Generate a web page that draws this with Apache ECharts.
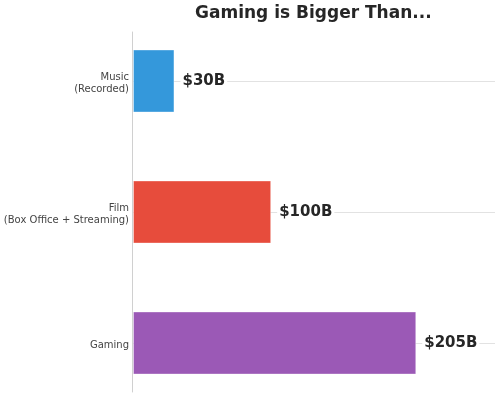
<!DOCTYPE html>
<html>
<head>
<meta charset="utf-8">
<script src="https://cdn.jsdelivr.net/npm/echarts@6/dist/echarts.min.js"></script>
<style>html,body{margin:0;padding:0;background:#fff}#c{width:500px;height:398px}</style>
</head>
<body>
<div id="c"></div>
<script>
const categories = ['Music\n(Recorded)', 'Film\n(Box Office + Streaming)', 'Gaming'];
const values = [30, 100, 205];
const valueLabels = ['$30B', '$100B', '$205B'];
const colors = ['#3498db', '#e74c3c', '#9b59b6'];
const titleText = 'Gaming is Bigger Than...';

const chart = echarts.init(document.getElementById('c'), null, {renderer: 'canvas'});
chart.setOption({
  animation: false,
  backgroundColor: '#fff',
  textStyle: {fontFamily: 'DejaVu Sans'},
  title: {
    text: titleText, left: 190, top: 0,
    textStyle: {fontFamily: 'DejaVu Sans', fontWeight: 'bold', fontSize: 17, color: '#262626'}
  },
  grid: [
    {left: 133, top: 81, width: 362, height: 262, containLabel: false},
    {left: 132, top: 32, width: 1, height: 360}
  ],
  xAxis: [
    {type: 'value', min: 0, max: 262, show: false, gridIndex: 0},
    {type: 'value', min: 0, max: 1, show: false, gridIndex: 1}
  ],
  yAxis: [
    {
      type: 'category', data: categories, inverse: true, boundaryGap: false, gridIndex: 0,
      axisLine: {show: false}, axisTick: {show: false},
      axisLabel: {
        margin: 4, align: 'right',
        formatter: v => '{s| }\n' + v.split('\n').map(l => '{a|' + l + '}').join('\n'),
        rich: {
          s: {fontSize: 1, lineHeight: 5},
          a: {fontFamily: 'DejaVu Sans', fontSize: 10, lineHeight: 12, color: '#444', align: 'right'}
        }
      },
      splitLine: {show: true, lineStyle: {color: '#e2e2e2', width: 1}}
    },
    {
      type: 'value', min: 0, max: 1, gridIndex: 1,
      axisLine: {show: true, lineStyle: {color: '#d0d0d0', width: 1}},
      axisTick: {show: false}, axisLabel: {show: false}, splitLine: {show: false}
    }
  ],
  series: [{
    type: 'bar',
    xAxisIndex: 0, yAxisIndex: 0,
    clip: false,
    barWidth: 63,
    data: values.map((v, i) => ({value: v, itemStyle: {color: colors[i]}})),
    itemStyle: {borderColor: 'rgba(255,255,255,0.35)', borderWidth: 1},
    label: {
      show: true, position: 'right', distance: 6,
      formatter: p => valueLabels[p.dataIndex],
      fontFamily: 'DejaVu Sans', fontWeight: 'bold', fontSize: 15, color: '#262626',
      backgroundColor: '#fff', padding: [2, 2, 0, 2]
    }
  }]
});
</script>
</body>
</html>
